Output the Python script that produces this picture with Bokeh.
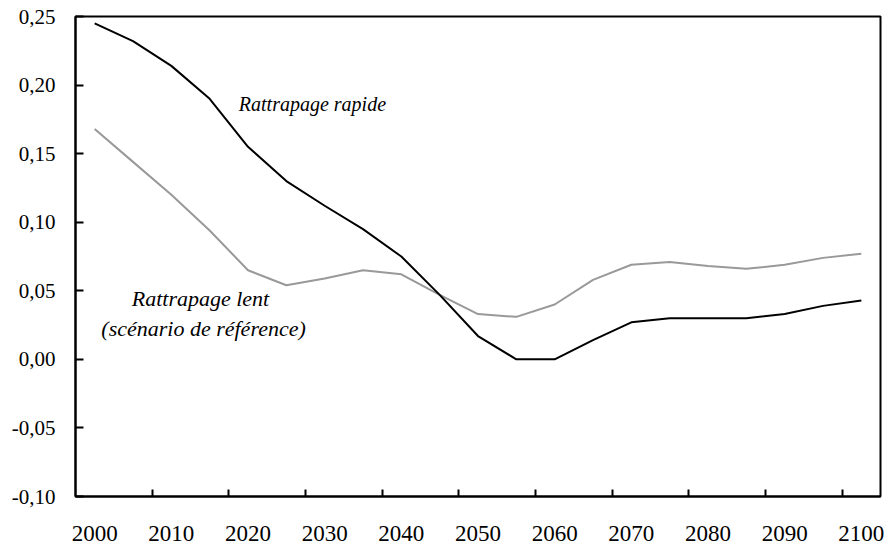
from bokeh.plotting import figure
from bokeh.models import FixedTicker, Range1d, ColumnDataSource
from bokeh.core.properties import value
from bokeh.embed import file_html
from bokeh.resources import INLINE

years = [2000, 2005, 2010, 2015, 2020, 2025, 2030, 2035, 2040, 2045, 2050,
         2055, 2060, 2065, 2070, 2075, 2080, 2085, 2090, 2095, 2100]
rapide = [0.245, 0.232, 0.214, 0.190, 0.155, 0.130, 0.112, 0.095, 0.075, 0.047, 0.017,
          0.000, 0.000, 0.014, 0.027, 0.030, 0.030, 0.030, 0.033, 0.039, 0.043]
lent = [0.168, 0.144, 0.120, 0.094, 0.065, 0.054, 0.059, 0.065, 0.062, 0.047, 0.033,
        0.031, 0.040, 0.058, 0.069, 0.071, 0.068, 0.066, 0.069, 0.074, 0.077]
x_tick_labels = [2000, 2010, 2020, 2030, 2040, 2050, 2060, 2070, 2080, 2090, 2100]
y_ticks = [-0.10, -0.05, 0.0, 0.05, 0.10, 0.15, 0.20, 0.25]
y_tick_labels = ["-0,10", "-0,05", "0,00", "0,05", "0,10", "0,15", "0,20", "0,25"]
label_rapide = "Rattrapage rapide"
label_lent = ["Rattrapage lent", "(scénario de référence)"]

FONT = "Liberation Serif"

p = figure(width=891, height=549, output_backend="svg", toolbar_location=None,
           x_range=Range1d(1997.5, 2102.5), y_range=Range1d(-0.10, 0.25),
           min_border_left=75, min_border_right=11, min_border_top=16, min_border_bottom=53)

p.xgrid.visible = False
p.ygrid.visible = False
p.background_fill_color = "white"
p.border_fill_color = "white"
p.outline_line_color = "black"
p.outline_line_width = 2

# x axis: labels at decades, tick marks between category pairs
minor = [y + 7.5 for y in x_tick_labels[:-1]]
p.xaxis.ticker = FixedTicker(ticks=x_tick_labels, minor_ticks=minor)
p.xaxis.major_tick_in = 0
p.xaxis.major_tick_out = 0
p.xaxis.minor_tick_in = 7
p.xaxis.minor_tick_out = 0
p.xaxis.minor_tick_line_color = "black"
p.xaxis.minor_tick_line_width = 2
p.xaxis.axis_line_width = 2
p.xaxis.axis_line_color = "black"
p.xaxis.major_label_text_font = FONT
p.xaxis.major_label_text_font_size = "23px"
p.xaxis.major_label_text_color = "black"
p.xaxis.major_label_standoff = 29

p.yaxis.ticker = FixedTicker(ticks=y_ticks)
p.yaxis.major_label_overrides = {t: l for t, l in zip(y_ticks, y_tick_labels)}
p.yaxis.major_tick_in = 8
p.yaxis.major_tick_out = 0
p.yaxis.major_tick_line_width = 2
p.yaxis.major_tick_line_color = "black"
p.yaxis.minor_tick_line_color = None
p.yaxis.axis_line_width = 2
p.yaxis.axis_line_color = "black"
p.yaxis.major_label_text_font = FONT
p.yaxis.major_label_text_font_size = "21px"
p.yaxis.major_label_text_color = "black"
p.yaxis.major_label_standoff = 20

src = ColumnDataSource(dict(x=years, rapide=rapide, lent=lent))
p.line("x", "lent", source=src, line_color="#999999", line_width=2)
p.line("x", "rapide", source=src, line_color="black", line_width=2)

p.text(x=[2028.4], y=[0.186], text=[label_rapide], text_font=value(FONT),
       text_font_style="italic", text_font_size="20px", text_align="center",
       text_baseline="alphabetic", text_color="black")
p.text(x=[2013.8, 2014.2], y=[0.0444, 0.0225], text=label_lent, text_font=value(FONT),
       text_font_style="italic", text_font_size="22px", text_align="center",
       text_baseline="alphabetic", text_color="black")

open("out.html", "w").write(file_html(p, INLINE))
